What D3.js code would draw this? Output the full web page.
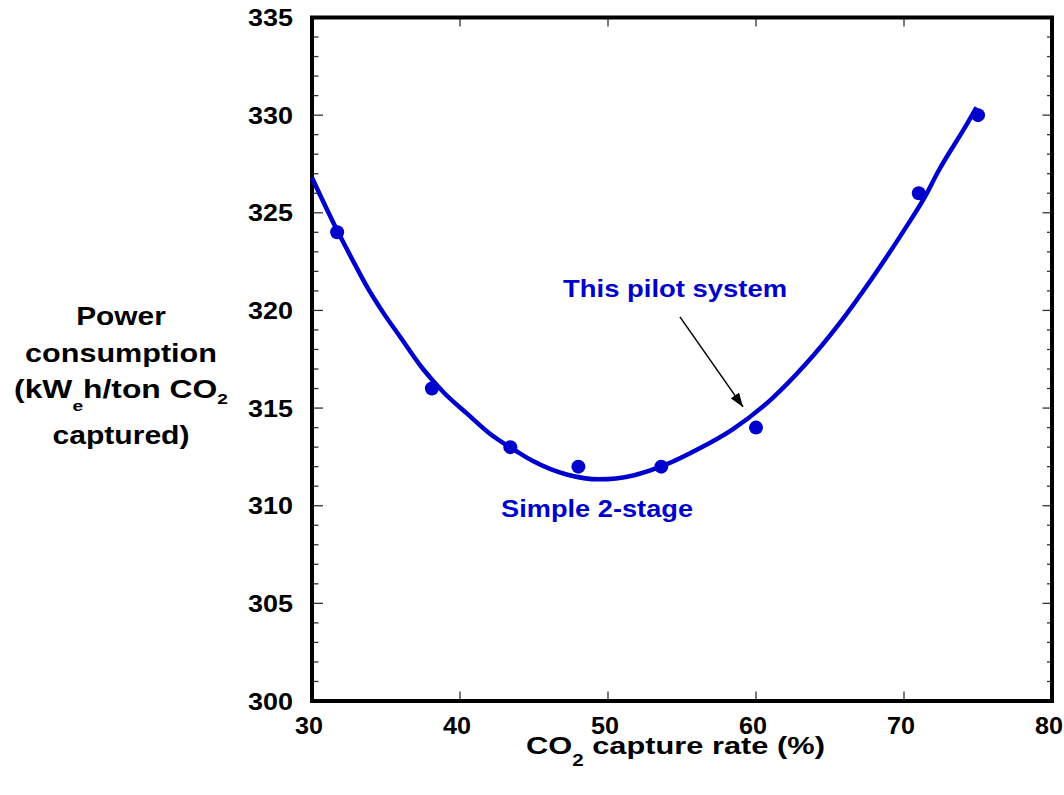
<!DOCTYPE html>
<html>
<head>
<meta charset="utf-8">
<script src="https://cdn.jsdelivr.net/npm/d3@7"></script>
<style>
  html, body { margin: 0; padding: 0; background: #fff; }
  text { font-family: "Liberation Sans", Arial, sans-serif; font-weight: bold; }
</style>
</head>
<body>
<div id="chart"></div>
<script>
// measured points
const pointX = [31.7, 38.1, 43.4, 48.0, 53.6, 60.0, 71.0, 75.0];
const pointY = [324, 316, 313, 312, 312, 314, 326, 330];

// fitted curve
const curveX = [30.0, 31.7, 32.8, 33.8, 34.8, 36.0, 37.5, 38.9, 40.5, 42.0, 43.8, 44.9, 47.2, 49.4,
  51.7, 53.9, 56.1, 58.4, 61.1, 63.3, 65.6, 67.8, 70.0, 71.4, 72.3, 74.3, 74.9];
const curveY = [326.8, 324.1, 322.5, 321.1, 319.9, 318.6, 317.0, 315.8, 314.7, 313.7, 312.8, 312.3, 311.6, 311.35,
  311.55, 312.1, 312.9, 313.9, 315.5, 317.2, 319.3, 321.6, 324.1, 325.8, 327.1, 329.6, 330.4];

const xTicks = [30, 40, 50, 60, 70, 80];
const yTicks = [300, 305, 310, 315, 320, 325, 330, 335];

// annotations in data units
const noteText = ["This pilot system", "Simple 2-stage"];
const noteX = [54.53, 49.26];
const noteY = [320.69, 309.42];
const arrowFrom = [54.86, 319.67];
const arrowTo = [59.12, 315.06];

(function () {
  const blue = "#0000cc";
  const width = 1064, height = 795;
  const mLeft = 312, mRight = 1052, mTop = 17.5, mBottom = 701;

  const svg = d3.select("#chart").append("svg")
    .attr("width", width).attr("height", height);

  const x = d3.scaleLinear().domain([30, 80]).range([mLeft, mRight]);
  const y = d3.scaleLinear().domain([300, 335]).range([mBottom, mTop]);

  // stretch a text horizontally so it covers the given width
  function fit(t, w) {
    const bw = t.node().getBBox().width;
    t.attr("transform", t.attr("transform") + ` scale(${w / bw},1)`);
    return t;
  }

  // minor + major ticks
  const minorY = d3.range(300, 336, 1);
  const ticks = svg.append("g").attr("stroke", "#333").attr("stroke-width", 1.3);

  ticks.selectAll(".ly").data(minorY).enter().append("line")
    .attr("x1", mLeft).attr("x2", d => mLeft + (d % 5 === 0 ? 11 : 6.5))
    .attr("y1", d => y(d)).attr("y2", d => y(d));
  ticks.selectAll(".ry").data(minorY).enter().append("line")
    .attr("x1", mRight).attr("x2", d => mRight - (d % 5 === 0 ? 9.5 : 5))
    .attr("y1", d => y(d)).attr("y2", d => y(d));
  ticks.selectAll(".bx").data(xTicks.slice(1, -1)).enter().append("line")
    .attr("x1", d => x(d)).attr("x2", d => x(d))
    .attr("y1", mBottom).attr("y2", mBottom - 9.5);
  ticks.selectAll(".tx").data(xTicks.slice(1, -1)).enter().append("line")
    .attr("x1", d => x(d)).attr("x2", d => x(d))
    .attr("y1", mTop).attr("y2", mTop + 9);

  // frame
  svg.append("rect")
    .attr("x", mLeft).attr("y", mTop)
    .attr("width", mRight - mLeft).attr("height", mBottom - mTop)
    .attr("fill", "none").attr("stroke", "#000").attr("stroke-width", 4);

  // tick labels
  yTicks.forEach(v => {
    const t = svg.append("text")
      .attr("transform", `translate(293,${y(v)})`)
      .attr("text-anchor", "end").attr("dy", "0.36em")
      .attr("font-size", 24).text(v);
    fit(t, 45);
  });
  xTicks.forEach(v => {
    const t = svg.append("text")
      .attr("transform", `translate(${x(v) - 3},734)`)
      .attr("text-anchor", "middle")
      .attr("font-size", 24).text(v);
    fit(t, 28);
  });

  // x title
  const xt = svg.append("text").attr("transform", "translate(526,754)").attr("font-size", 24);
  xt.append("tspan").text("CO");
  xt.append("tspan").attr("font-size", 16).attr("dy", 12).text("2");
  xt.append("tspan").attr("dy", -12).text(" capture rate (%)");
  fit(xt, 299);

  // y title
  const yLines = [
    { t: "Power", base: 325, w: 90 },
    { t: "consumption", base: 362, w: 192 },
    { t: null, base: 398, w: 214 },
    { t: "captured)", base: 444, w: 137 }
  ];
  yLines.forEach(l => {
    const t = svg.append("text")
      .attr("transform", `translate(121,${l.base})`)
      .attr("text-anchor", "middle").attr("font-size", 25);
    if (l.t) {
      t.text(l.t);
    } else {
      t.append("tspan").text("(kW");
      t.append("tspan").attr("font-size", 15).attr("dy", 13).text("e");
      t.append("tspan").attr("dy", -13).text("h/ton CO");
      t.append("tspan").attr("font-size", 15).attr("dy", 6).text("2");
    }
    fit(t, l.w);
  });

  // curve
  const curve = curveX.map((d, i) => [d, curveY[i]]);
  svg.append("path")
    .datum(curve)
    .attr("d", d3.line().x(d => x(d[0])).y(d => y(d[1])).curve(d3.curveMonotoneX))
    .attr("fill", "none").attr("stroke", blue).attr("stroke-width", 4.5)
    .attr("stroke-linejoin", "round");

  // points
  svg.selectAll(".pt").data(pointX).enter().append("circle")
    .attr("cx", d => x(d))
    .attr("cy", (d, i) => y(pointY[i]))
    .attr("r", 7).attr("fill", blue);

  // annotations
  svg.append("defs").append("marker")
    .attr("id", "arrow").attr("viewBox", "0 0 14 10")
    .attr("refX", 14).attr("refY", 5)
    .attr("markerWidth", 14).attr("markerHeight", 10)
    .attr("markerUnits", "userSpaceOnUse")
    .attr("orient", "auto")
    .append("path").attr("d", "M0,0 L14,5 L0,10 Z").attr("fill", "#000");

  svg.append("line")
    .attr("x1", x(arrowFrom[0])).attr("y1", y(arrowFrom[1]))
    .attr("x2", x(arrowTo[0])).attr("y2", y(arrowTo[1]))
    .attr("stroke", "#000").attr("stroke-width", 1.5)
    .attr("marker-end", "url(#arrow)");

  const noteW = [224, 192];
  noteText.forEach((s, i) => {
    const t = svg.append("text")
      .attr("transform", `translate(${x(noteX[i])},${y(noteY[i])})`)
      .attr("text-anchor", "middle").attr("font-size", 24.5)
      .attr("fill", blue).text(s);
    fit(t, noteW[i]);
  });
})();
</script>
</body>
</html>
